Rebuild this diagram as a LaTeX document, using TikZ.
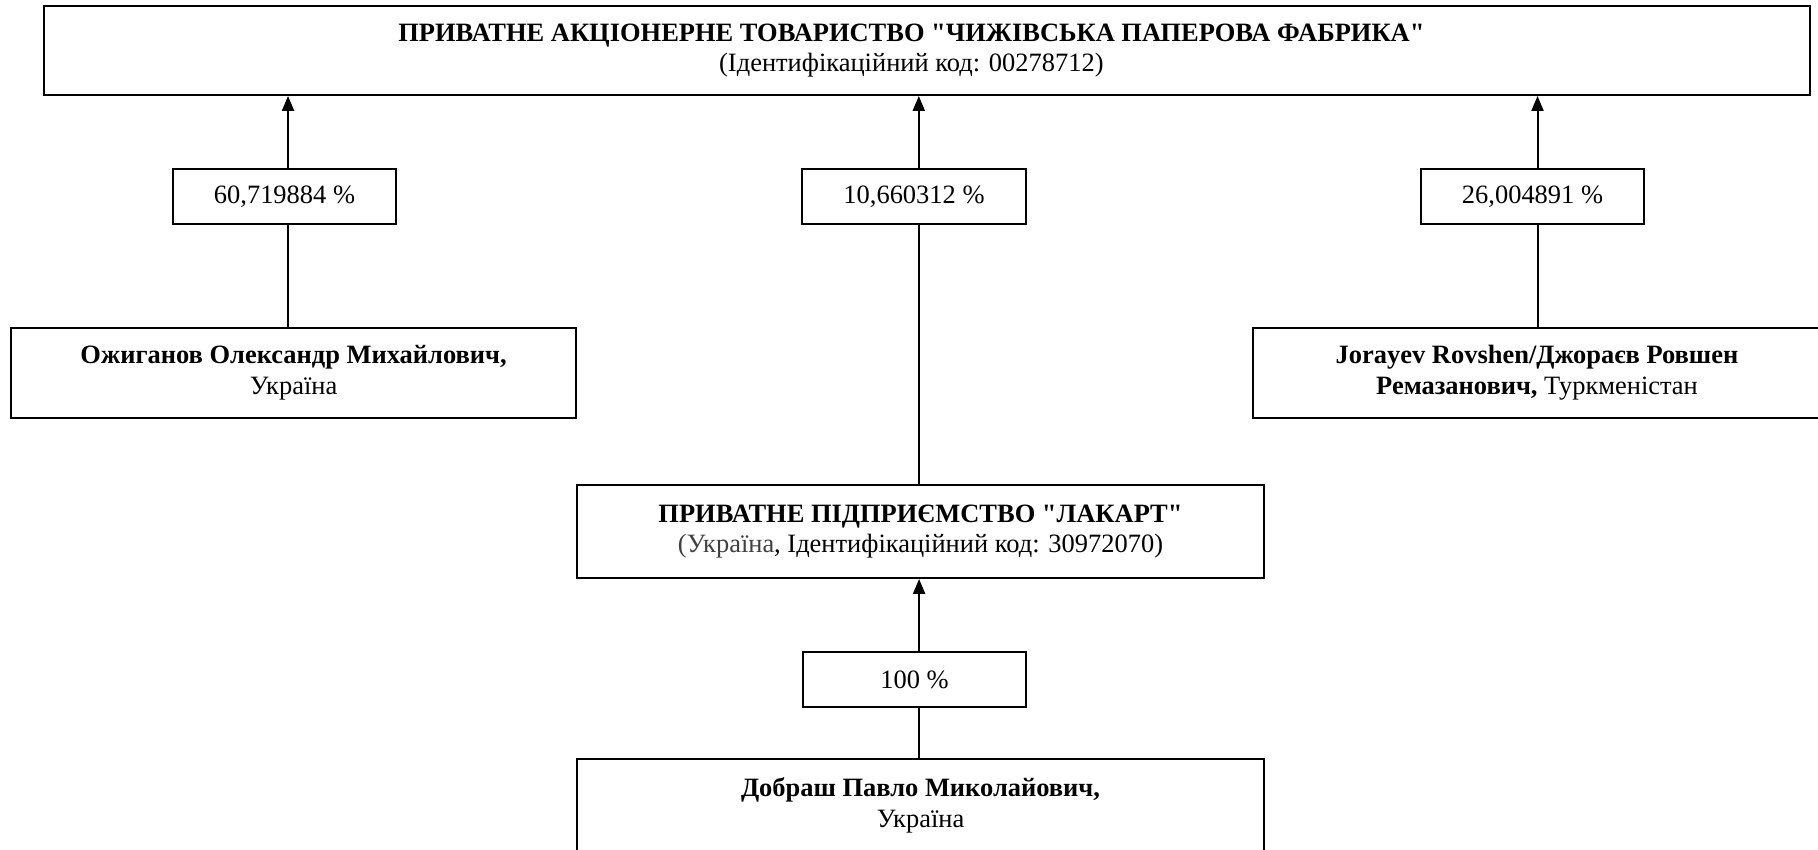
\documentclass[tikz,border=0pt]{standalone}
\usepackage{fontspec}
\setmainfont{Liberation Serif}
\newfontfamily\plainserif{Liberation Serif}
\usetikzlibrary{arrows.meta}
\definecolor{uagray}{rgb}{0.25,0.25,0.25}
\begin{document}
\begin{tikzpicture}[x=0.48pt,y=-0.48pt,
  sz/.style 2 args={minimum width=#1*0.48pt, minimum height=#2*0.48pt},
  box/.style={draw=black, line width=0.95pt, inner sep=0pt, align=center,
    font=\plainserif\fontsize{12.7}{14.8}\selectfont},
  ln/.style={draw=black, line width=0.95pt},
  arr/.style={ln, -{Triangle[length=7.2pt,width=5.8pt]}}]
\useasboundingbox (0,0) rectangle (1818,850);
\clip (0,0) rectangle (1818,850);
\fill[white] (0,0) rectangle (1818,850);

\node[box, sz={1766}{89}] (top) at (927,50.5)
  {\textbf{ПРИВАТНЕ АКЦІОНЕРНЕ ТОВАРИСТВО "ЧИЖІВСЬКА ПАПЕРОВА ФАБРИКА"}\hspace*{15pt}\\(Ідентифікаційний код: 00278712)\hspace*{15pt}};

\node[box, sz={223}{55}] (l1) at (284.5,196.5) {60,719884 \%};
\node[box, sz={224}{55}] (l2) at (914,196.5) {10,660312 \%};
\node[box, sz={223}{55}] (l3) at (1532.5,196.5) {26,004891 \%};

\node[box, sz={565}{90}] (p1) at (293.5,373)
  {\textbf{Ожиганов Олександр Михайлович,}\\Україна};
\node[box, sz={568}{90}] (p3) at (1537,373)
  {\textbf{Jorayev Rovshen/Джораєв Ровшен}\\\textbf{Ремазанович,} Туркменістан};

\node[box, sz={687}{93}] (lak) at (920.5,531.5)
  {\textbf{ПРИВАТНЕ ПІДПРИЄМСТВО "ЛАКАРТ"}\\{\color{uagray}(Україна}, Ідентифікаційний код: 30972070)};

\node[box, sz={223}{55}] (l4) at (914.5,679.5) {100 \%};

\node[box, sz={687}{93}] (p4) at (920.5,805.5)
  {\textbf{Добраш Павло Миколайович,}\\Україна};

% connectors
\draw[arr] ([xshift=1.7pt]l1.north) -- ([xshift=1.7pt]l1.north |- top.south);
\draw[ln]  ([xshift=1.7pt]l1.south) -- ([xshift=1.7pt]l1.south |- p1.north);

\draw[arr] ([xshift=2.3pt]l2.north) -- ([xshift=2.3pt]l2.north |- top.south);
\draw[ln]  ([xshift=2.3pt]l2.south) -- ([xshift=2.3pt]l2.south |- lak.north);

\draw[arr] ([xshift=2.4pt]l3.north) -- ([xshift=2.4pt]l3.north |- top.south);
\draw[ln]  ([xshift=2.4pt]l3.south) -- ([xshift=2.4pt]l3.south |- p3.north);

\draw[arr] ([xshift=2.2pt]l4.north) -- ([xshift=2.2pt]l4.north |- lak.south);
\draw[ln]  ([xshift=2.2pt]l4.south) -- ([xshift=2.2pt]l4.south |- p4.north);
\end{tikzpicture}
\end{document}
